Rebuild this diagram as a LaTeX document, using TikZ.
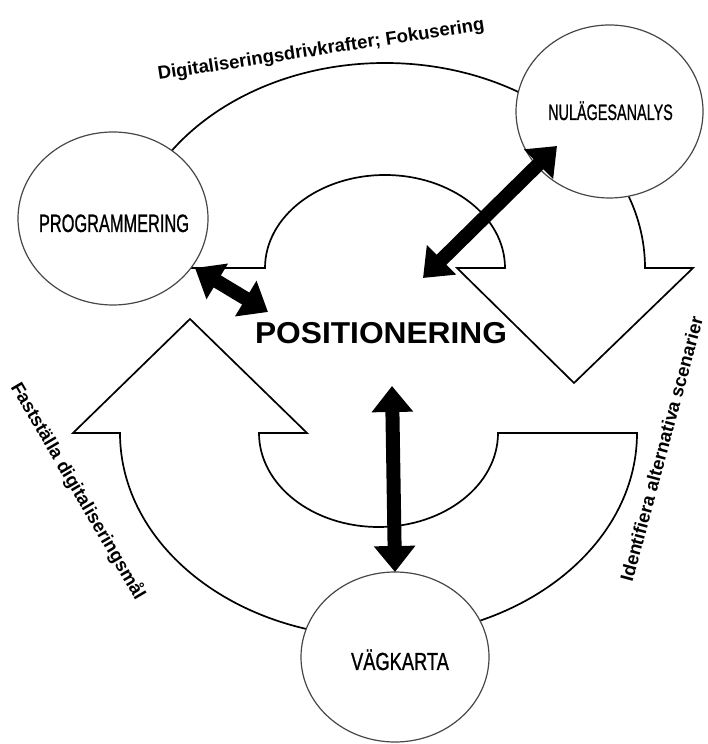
\documentclass[tikz,border=0pt]{standalone}
\usepackage{fontspec}
\usepackage{graphicx}
\setmainfont{Liberation Sans}
\newfontfamily\stagefont[FakeBold=1.1]{Liberation Sans}
\usetikzlibrary{arrows.meta,shapes.geometric}

\begin{document}
\begin{tikzpicture}[x=1pt,y=1pt,
  bigarrow/.style={fill=white, draw=black, line width=1.7pt, line join=miter},
  stage/.style={ellipse, draw=black!72, line width=1.2pt, fill=white, inner sep=0pt},
  stagetext/.style={anchor=base, inner sep=0pt},
  linklabel/.style={font=\bfseries\fontsize{18.5}{18.5}\selectfont, inner sep=0pt},
  dblarrow/.style={line width=14pt, >={Triangle[length=26pt,width=40pt]}, <->},
]
% canvas
\fill[white] (0,0) rectangle (707,744);
\useasboundingbox (0,0) rectangle (707,744);

% upper half-ring arrow, pointing down on the right
\draw[bigarrow] (265,476)
  arc[start angle=180, end angle=0, x radius=120, y radius=93]
  -- (457,476) -- (574,361) -- (693,476) -- (645,476)
  arc[start angle=0, end angle=180, x radius=260, y radius=205]
  -- cycle;

% lower half-ring arrow, pointing up on the left
\draw[bigarrow] (498,311)
  arc[start angle=0, end angle=-180, x radius=119.5, y radius=94]
  -- (307,311) -- (190,425) -- (73,311) -- (120,311)
  arc[start angle=180, end angle=360, x radius=258.5, y radius=204]
  -- cycle;

% stages
\node[stage, minimum width=190pt, minimum height=173pt] (prog) at (113,525.5) {};
\node[stage, minimum width=187pt, minimum height=173pt] (nul) at (609.5,632.5) {};
\node[stage, minimum width=188pt, minimum height=170pt] (vag) at (395,87) {};

\node[stagetext] (progtext) at (114,512)
  {\scalebox{0.652}[1]{\stagefont\fontsize{25.1}{25}\selectfont PROGRAMMERING}};
\node[stagetext] (nultext) at (610.5,624)
  {\scalebox{0.646}[1]{\stagefont\fontsize{22.3}{22}\selectfont NULÄGESANALYS}};
\node[stagetext] (vagtext) at (400,74)
  {\scalebox{0.74}[1]{\stagefont\fontsize{24.7}{24}\selectfont VÄGKARTA}};

% centre
\node[stagetext] (pos) at (381,400.7)
  {\scalebox{1.05}[1]{\bfseries\fontsize{30.2}{30}\selectfont POSITIONERING}};

% arrow ends between the stages and the centre
\coordinate (nulTip) at (557,598);
\coordinate (posNE) at (423,466);
\coordinate (progTip) at (195,476);
\coordinate (posNW) at (268,432);
\coordinate (posS) at (392,358);
\coordinate (vagTip) at (395,172);

\draw[dblarrow] (posNE) -- (nulTip);
\draw[dblarrow] (progTip) -- (posNW);
\draw[dblarrow] (posS) -- (vagTip);

% transition labels
\node[linklabel, rotate=8.7, anchor=base] (lbltop) at (322,689)
  {Digitaliseringsdrivkrafter; Fokusering};
\node[linklabel, rotate=-59.6] (lblleft) at (78,253)
  {Fastställa digitaliseringsmål};
\node[linklabel, rotate=75] (lblright) at (661.5,295)
  {Identifiera alternativa scenarier};
\end{tikzpicture}
\end{document}
